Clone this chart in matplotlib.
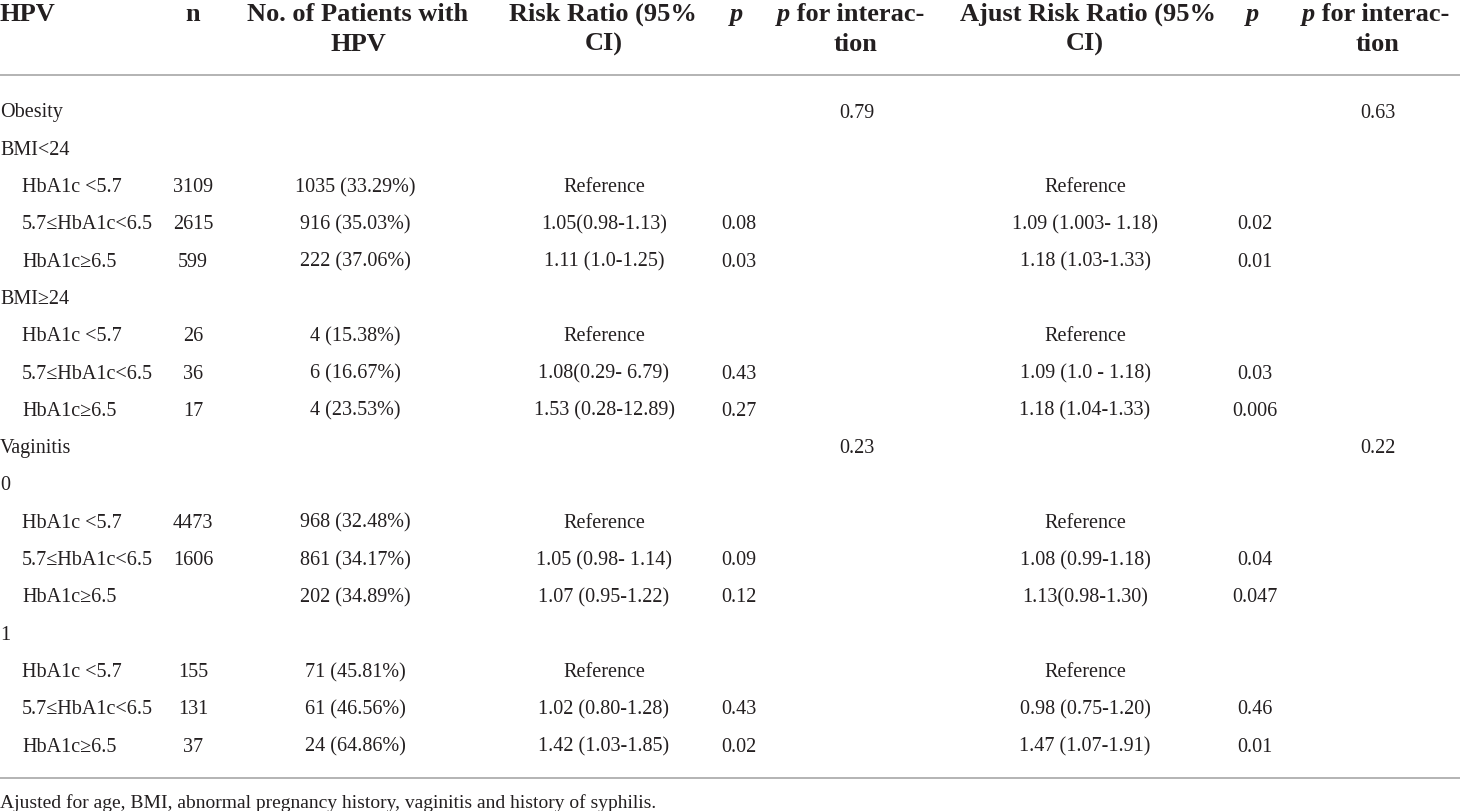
import matplotlib
matplotlib.use("Agg")
import matplotlib.pyplot as plt

# table content
row_labels = ["Obesity", "BMI<24", "HbA1c <5.7", "5.7≤HbA1c<6.5", "HbA1c≥6.5",
              "BMI≥24", "HbA1c <5.7", "5.7≤HbA1c<6.5", "HbA1c≥6.5",
              "Vaginitis", "0", "HbA1c <5.7", "5.7≤HbA1c<6.5", "HbA1c≥6.5",
              "1", "HbA1c <5.7", "5.7≤HbA1c<6.5", "HbA1c≥6.5"]
indented = [0, 0, 1, 1, 1, 0, 1, 1, 1, 0, 0, 1, 1, 1, 0, 1, 1, 1]

n_vals = ["", "", "3109", "2615", "599", "", "26", "36", "17",
          "", "", "4473", "1606", "", "", "155", "131", "37"]
hpv_pat = ["", "", "1035 (33.29%)", "916 (35.03%)", "222 (37.06%)",
           "", "4 (15.38%)", "6 (16.67%)", "4 (23.53%)",
           "", "", "968 (32.48%)", "861 (34.17%)", "202 (34.89%)",
           "", "71 (45.81%)", "61 (46.56%)", "24 (64.86%)"]
rr = ["", "", "Reference", "1.05(0.98-1.13)", "1.11 (1.0-1.25)",
      "", "Reference", "1.08(0.29- 6.79)", "1.53 (0.28-12.89)",
      "", "", "Reference", "1.05 (0.98- 1.14)", "1.07 (0.95-1.22)",
      "", "Reference", "1.02 (0.80-1.28)", "1.42 (1.03-1.85)"]
p_rr = ["", "", "", "0.08", "0.03", "", "", "0.43", "0.27",
        "", "", "", "0.09", "0.12", "", "", "0.43", "0.02"]
p_int = ["0.79", "", "", "", "", "", "", "", "",
         "0.23", "", "", "", "", "", "", "", ""]
adj_rr = ["", "", "Reference", "1.09 (1.003- 1.18)", "1.18 (1.03-1.33)",
          "", "Reference", "1.09 (1.0 - 1.18)", "1.18 (1.04-1.33)",
          "", "", "Reference", "1.08 (0.99-1.18)", "1.13(0.98-1.30)",
          "", "Reference", "0.98 (0.75-1.20)", "1.47 (1.07-1.91)"]
p_adj = ["", "", "", "0.02", "0.01", "", "", "0.03", "0.006",
         "", "", "", "0.04", "0.047", "", "", "0.46", "0.01"]
p_adj_int = ["0.63", "", "", "", "", "", "", "", "",
             "0.22", "", "", "", "", "", "", "", ""]
footnote = "Ajusted for age, BMI, abnormal pregnancy history, vaginitis and history of syphilis."

FONT = "Liberation Serif"
TXT = "#231f20"
BODY = 14.5
HEAD = 19

fig = plt.figure(figsize=(14.6, 8.12), dpi=100)
ax = fig.add_axes([0, 0, 1, 1])
ax.set_xlim(0, 1460)
ax.set_ylim(812, 0)
ax.axis("off")
renderer = fig.canvas.get_renderer()


def head(x, y, s, ha="center"):
    ax.text(x, y, s, ha=ha, va="baseline", fontsize=HEAD, fontweight="bold",
            family=FONT, color=TXT)


def head_p(xc, y, rest):
    # italic p followed by bold text, centred as one piece
    t1 = ax.text(0, y, "p", ha="left", va="baseline", fontsize=HEAD,
                 fontweight="bold", style="italic", family=FONT, color=TXT)
    t2 = ax.text(0, y, rest, ha="left", va="baseline", fontsize=HEAD,
                 fontweight="bold", family=FONT, color=TXT)
    w1 = t1.get_window_extent(renderer).width
    w2 = t2.get_window_extent(renderer).width
    x0 = xc - (w1 + w2) / 2
    t1.set_x(x0)
    t2.set_x(x0 + w1)


# header
y1, y2 = 21, 51
head(0, y1, "HPV", ha="left")
head(193, y1, "n")
head(358, y1, "No. of Patients with")
head(358, y2, "HPV")
head(603, y1, "Risk Ratio (95%")
head(604, y2, "CI)")
ax.text(737, y1, "p", ha="center", va="baseline", fontsize=HEAD,
        fontweight="bold", style="italic", family=FONT, color=TXT)
head_p(851, y1, " for interac-")
head(856, y2, "tion")
head(1088, y1, "Ajust Risk Ratio (95%")
head(1085, y2, "CI)")
ax.text(1253, y1, "p", ha="center", va="baseline", fontsize=HEAD,
        fontweight="bold", style="italic", family=FONT, color=TXT)
head_p(1376, y1, " for interac-")
head(1378, y2, "tion")

# rules
ax.plot([0, 1460], [76, 76], color="#b3b3b3", lw=1.4, solid_capstyle="butt")
ax.plot([0, 1460], [779, 779], color="#b3b3b3", lw=1.4, solid_capstyle="butt")

# body
cols = [(193, n_vals), (355, hpv_pat), (604, rr), (739, p_rr), (857, p_int),
        (1085, adj_rr), (1255, p_adj), (1378, p_adj_int)]
row_step = 37.3
for i, lab in enumerate(row_labels):
    yb = 110 + i * row_step + 7.5
    ax.text(22 if indented[i] else 0, yb, lab, ha="left", va="baseline",
            fontsize=BODY, family=FONT, color=TXT)
    for xc, vals in cols:
        if vals[i]:
            ax.text(xc, yb, vals[i], ha="center", va="baseline",
                    fontsize=BODY, family=FONT, color=TXT)

ax.text(0, 808, footnote, ha="left", va="baseline", fontsize=14,
        family=FONT, color=TXT)

fig.savefig("out.png", dpi=100, facecolor="white")
